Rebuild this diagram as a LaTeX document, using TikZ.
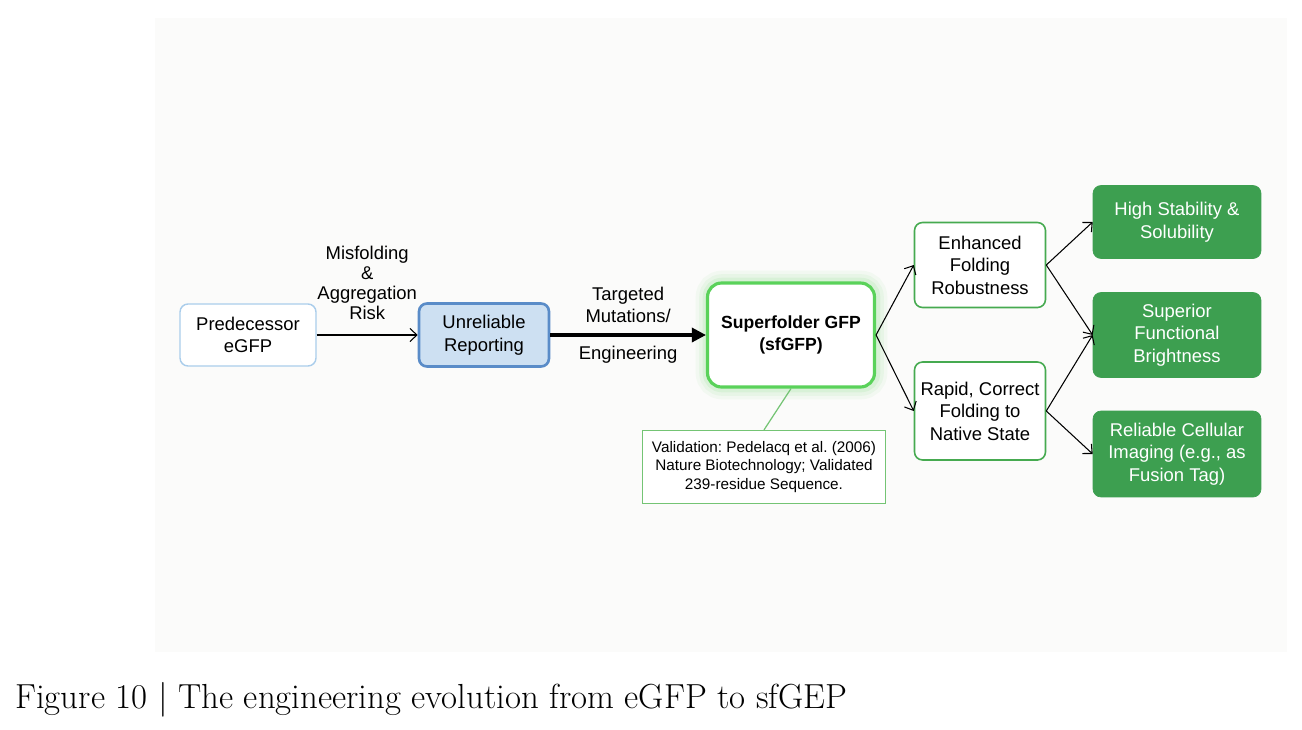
\documentclass[tikz,border=0pt]{standalone}
\usepackage{fontspec}
\setsansfont{Liberation Sans}
\usepackage{tikz}
\usetikzlibrary{arrows.meta,calc}
\frenchspacing

\definecolor{panelgray}{HTML}{FBFBFA}
\definecolor{lightblue}{HTML}{AACDEB}
\definecolor{reportfill}{HTML}{CDE0F2}
\definecolor{reportblue}{HTML}{5A8CC8}
\definecolor{glowgreen}{HTML}{5AD25A}
\definecolor{notegreen}{HTML}{74C474}
\definecolor{stepgreen}{HTML}{46AA50}
\definecolor{outgreen}{HTML}{3D9F50}

\tikzset{
	box/.style={draw, rounded corners=0.16cm, align=center, font=\sffamily\fontsize{10.5}{12.8}\selectfont, inner sep=0pt},
	startbox/.style={box, draw=lightblue, line width=0.8pt, fill=white},
	reportbox/.style={box, draw=reportblue, line width=1.5pt, fill=reportfill},
	sfbox/.style={box, draw=glowgreen, line width=1.8pt, fill=white, rounded corners=0.28cm, font=\sffamily\bfseries\fontsize{10}{13}\selectfont},
	notebox/.style={draw=notegreen, line width=0.7pt, fill=white, align=center, font=\sffamily\fontsize{8.7}{10.6}\selectfont, inner sep=0pt},
	stepbox/.style={box, draw=stepgreen, line width=0.9pt, fill=white},
	outbox/.style={box, fill=outgreen, draw=outgreen, text=white},
	conn/.style={-{Straight Barb[length=4pt,width=7.5pt]}, line width=0.6pt},
	bigconn/.style={-{Triangle[length=8pt,width=8pt]}, line width=1.8pt},
	lbl/.style={align=center, font=\sffamily\fontsize{10.5}{11.4}\selectfont, inner sep=0pt}
}

\begin{document}
\begin{tikzpicture}[x=0.02cm, y=-0.02cm]
	\useasboundingbox (0,0) rectangle (1302,730);
	% Coordinates
	\coordinate (P) at (248,335);
	\coordinate (U) at (484,335);
	\coordinate (S) at (791,335);
	\coordinate (V) at (764,467);
	\coordinate (E) at (980,265);
	\coordinate (R) at (980,411);
	\coordinate (H) at (1177,222);
	\coordinate (B) at (1177,335);
	\coordinate (C) at (1177,454);
	% Panel
	\fill[panelgray] (155,18) rectangle (1287,652);
	% Glow behind sfGFP
	\foreach \w/\o in {14/0.05, 10/0.07, 6/0.1} {
		\draw[glowgreen, opacity=\o, line width=\w pt, rounded corners=0.28cm] (708,283) rectangle (875,387);
	}
	% Boxes
	\node[startbox, minimum width=2.72cm, minimum height=1.24cm] (pred) at (P) {Predecessor\\eGFP};
	\node[reportbox, minimum width=2.6cm, minimum height=1.26cm] (unrel) at (U) {Unreliable\\Reporting};
	\node[sfbox, minimum width=3.34cm, minimum height=2.08cm] (sfgfp) at (S) {Superfolder GFP\\(sfGFP)};
	\node[notebox, minimum width=4.86cm, minimum height=1.46cm] (valid) at (V) {Validation: Pedelacq et al. (2006)\\Nature Biotechnology; Validated\\239-residue Sequence.};
	\node[stepbox, minimum width=2.62cm, minimum height=1.7cm] (enh) at (E) {Enhanced\\Folding\\Robustness};
	\node[stepbox, minimum width=2.62cm, minimum height=1.96cm] (rapid) at (R) {Rapid, Correct\\Folding to\\Native State};
	\node[outbox, minimum width=3.36cm, minimum height=1.46cm] (high) at (H) {High Stability \&\\Solubility};
	\node[outbox, minimum width=3.36cm, minimum height=1.7cm] (bright) at (B) {Superior\\Functional\\Brightness};
	\node[outbox, minimum width=3.36cm, minimum height=1.72cm] (imaging) at (C) {Reliable Cellular\\Imaging (e.g., as\\Fusion Tag)};
	% Arrows
	\draw[conn] (pred) -- node[lbl, above=0.3cm] (risk) {Misfolding\\\&\\Aggregation\\Risk} (unrel);
	\draw[bigconn] (unrel) -- node[lbl, above=0.22cm, font=\sffamily\fontsize{10.5}{12.4}\selectfont] (mut) {Targeted\\Mutations/} node[lbl, below=0.2cm] (eng) {Engineering} (sfgfp);
	\draw[notegreen, line width=0.7pt] (sfgfp.south) -- (valid.north);
	\draw[conn] (sfgfp.east) -- (enh.west);
	\draw[conn] (sfgfp.east) -- (rapid.west);
	\draw[conn] (enh.east) -- (high.west);
	\draw[conn] (enh.east) -- (bright.west);
	\draw[conn] (rapid.east) -- (bright.west);
	\draw[conn] (rapid.east) -- (imaging.west);
	% Caption
	\node[anchor=base west, inner sep=0pt, font=\rmfamily\fontsize{19.8}{23}\selectfont] (caption) at (15,708) {Figure 10 | The engineering evolution from eGFP to sfGEP};
\end{tikzpicture}
\end{document}
